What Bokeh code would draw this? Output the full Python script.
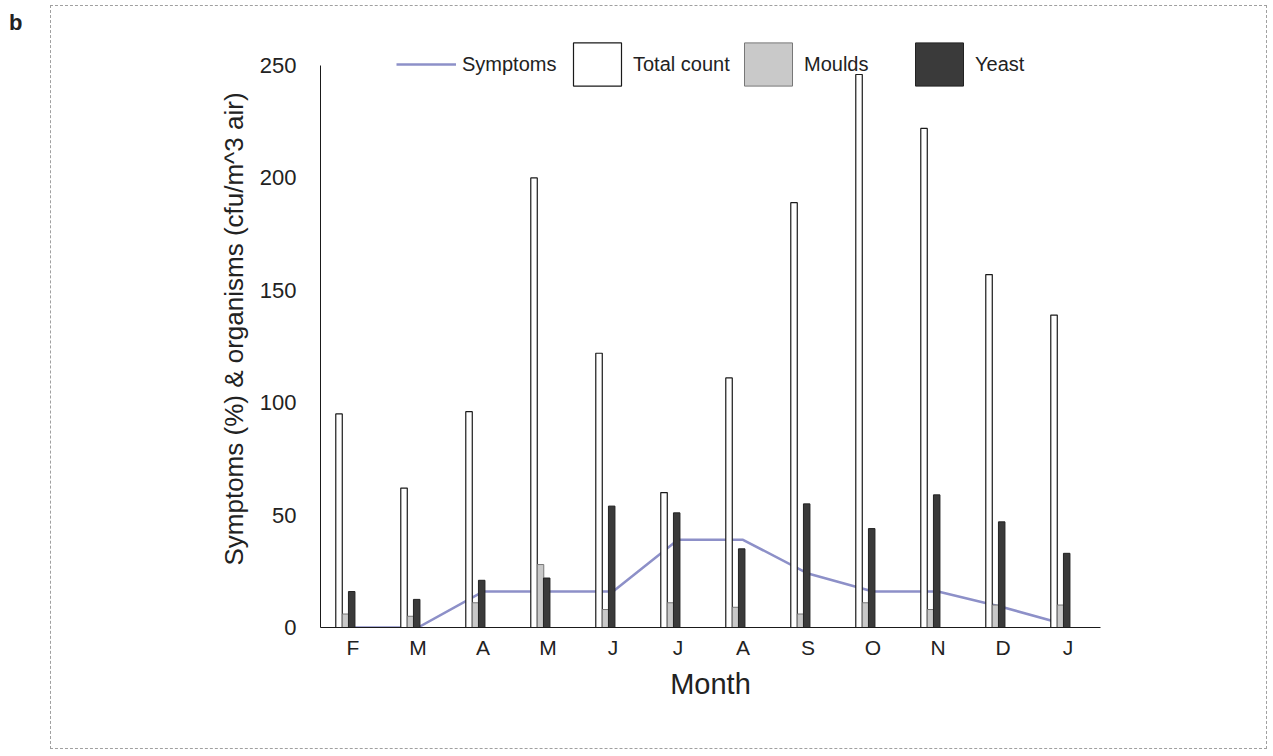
from bokeh.plotting import figure
from bokeh.layouts import row
from bokeh.models import ColumnDataSource, Range1d, FixedTicker, Legend, LegendItem, Div
from bokeh.embed import file_html
from bokeh.resources import INLINE

# Monthly air sampling: symptom prevalence and airborne organism counts
months = ["F", "M", "A", "M", "J", "J", "A", "S", "O", "N", "D", "J"]
symptoms = [0, 0, 16, 16, 16, 39, 39, 24, 16, 16, 9, 1]
total_count = [95, 62, 96, 200, 122, 60, 111, 189, 246, 222, 157, 139]
moulds = [6, 5, 11, 28, 8, 11, 9, 6, 11, 8, 10, 10]
yeast = [16, 12.5, 21, 22, 54, 51, 35, 55, 44, 59, 47, 33]
y_ticks = [0, 50, 100, 150, 200, 250]

FONT = "Liberation Sans"
TXT = "#222222"

centers = [i + 0.5 for i in range(len(months))]
src = ColumnDataSource(dict(
    x=centers,
    x_total=[c - 0.215 for c in centers],
    x_moulds=[c - 0.115 for c in centers],
    x_yeast=[c - 0.02 for c in centers],
    symptoms=symptoms, total=total_count, moulds=moulds, yeast=yeast,
))

p = figure(width=1217, height=744, output_backend="svg", toolbar_location=None,
           x_range=Range1d(0, len(months)), y_range=Range1d(0, 250 * 597 / 562),
           min_border_left=269, min_border_right=168, min_border_top=24,
           min_border_bottom=123, margin=(5, 0, 0, 0),
           styles={"border": "1px dashed #a0a0a0"})
p.background_fill_color = "white"
p.border_fill_color = "white"
p.outline_line_color = None
p.xgrid.visible = False
p.ygrid.visible = False

# symptom line underneath the columns
r_sym = p.line("x", "symptoms", source=src, line_color="#8d90c8", line_width=2.5)

bw = 0.1
r_tot = p.vbar(x="x_total", top="total", width=bw, source=src, fill_color="white",
               line_color="#1a1a1a", line_width=1.2)
r_mou = p.vbar(x="x_moulds", top="moulds", width=bw, source=src, fill_color="#c9c9c9",
               line_color="#777777", line_width=1)
r_yea = p.vbar(x="x_yeast", top="yeast", width=bw, source=src, fill_color="#3a3a3a",
               line_color="#222222", line_width=1)

# axes
xa = p.xaxis[0]
xa.ticker = FixedTicker(ticks=centers)
xa.major_label_overrides = {c: m for c, m in zip(centers, months)}
xa.major_tick_line_color = None
xa.minor_tick_line_color = None
xa.major_tick_out = 0
xa.major_label_standoff = 8
xa.major_label_text_font = FONT
xa.major_label_text_font_size = "21px"
xa.major_label_text_color = TXT
xa.axis_line_color = "#1a1a1a"
xa.axis_label = "Month"
xa.axis_label_text_font = FONT
xa.axis_label_text_font_size = "29px"
xa.axis_label_text_font_style = "normal"
xa.axis_label_text_color = TXT
xa.axis_label_standoff = 6

ya = p.yaxis[0]
ya.ticker = FixedTicker(ticks=y_ticks)
ya.bounds = (0, 250)
ya.major_tick_line_color = None
ya.minor_tick_line_color = None
ya.major_tick_out = 0
ya.major_label_standoff = 24
ya.major_label_text_font = FONT
ya.major_label_text_font_size = "22px"
ya.major_label_text_color = TXT
ya.axis_line_color = "#1a1a1a"
ya.axis_label = "Symptoms (%) & organisms (cfu/m^3 air)"
ya.axis_label_text_font = FONT
ya.axis_label_text_font_size = "26px"
ya.axis_label_text_font_style = "normal"
ya.axis_label_text_color = TXT
ya.axis_label_standoff = 8

legend = Legend(items=[
    LegendItem(label="Symptoms", renderers=[r_sym]),
    LegendItem(label="Total count", renderers=[r_tot]),
    LegendItem(label="Moulds", renderers=[r_mou]),
    LegendItem(label="Yeast", renderers=[r_yea]),
], orientation="horizontal", location=(76, 536), padding=0, margin=0, spacing=0,
    glyph_width=60, glyph_height=54, label_width=105, label_standoff=6,
    label_text_font=FONT, label_text_font_size="20px", label_text_color=TXT,
    border_line_alpha=0, background_fill_alpha=0)
p.add_layout(legend, "center")

# panel letter
panel_letter = Div(text="b", width=50, height=756, margin=0,
                   styles={"font-family": FONT, "font-weight": "bold", "font-size": "22px",
                           "color": TXT, "padding-left": "9px", "padding-top": "7px",
                           "box-sizing": "border-box"})

layout = row(panel_letter, p, spacing=0)
open("out.html", "w").write(file_html(layout, INLINE))
